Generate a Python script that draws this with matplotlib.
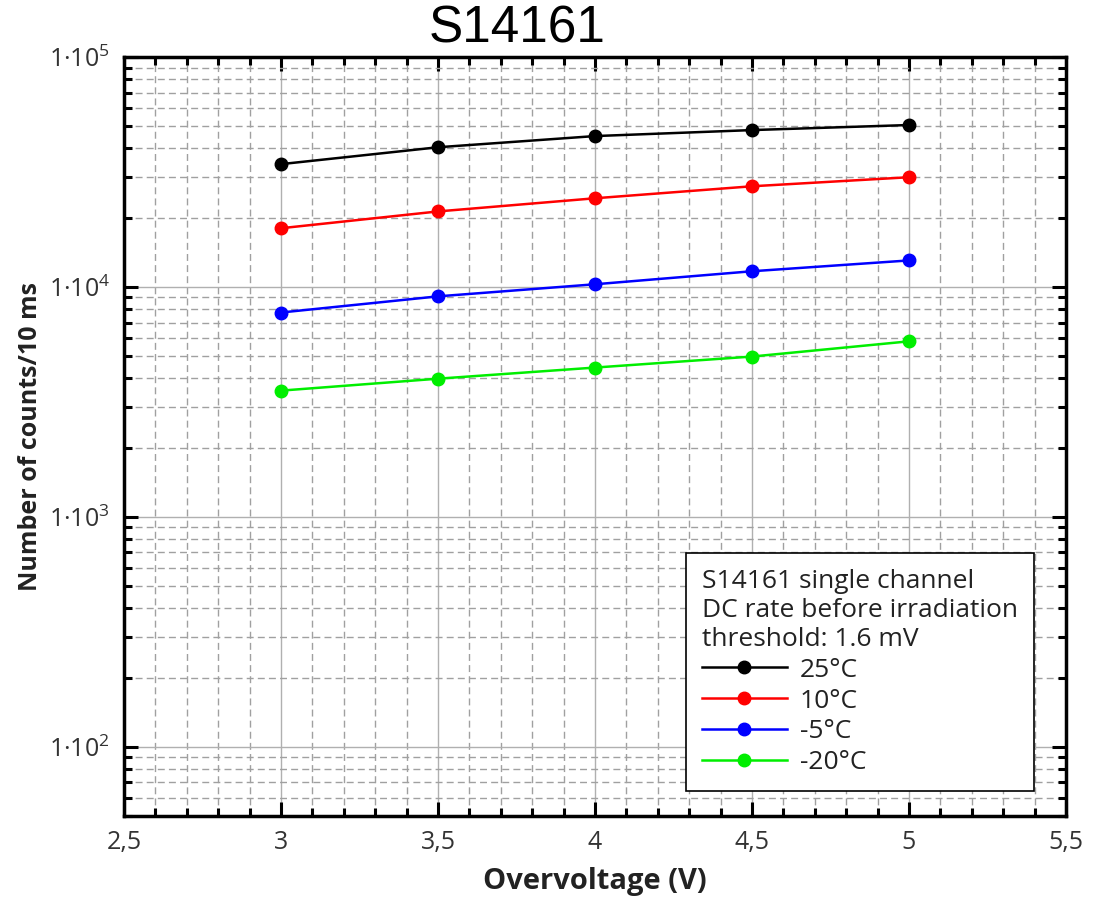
import math
import matplotlib.pyplot as plt
from matplotlib.ticker import FixedLocator, LogLocator, FuncFormatter, MultipleLocator

plt.rcParams['font.family'] = ['Open Sans', 'DejaVu Sans']
plt.rcParams['mathtext.fontset'] = 'custom'
plt.rcParams['mathtext.rm'] = 'Open Sans'

overvoltage = [3.0, 3.5, 4.0, 4.5, 5.0]
counts_25 = [34200, 40500, 45300, 48100, 50600]
counts_10 = [18000, 21300, 24300, 27400, 30000]
counts_m5 = [7740, 9100, 10270, 11700, 13040]
counts_m20 = [3540, 3990, 4460, 4980, 5800]

series = [
    ("25°C", counts_25, "#000000"),
    ("10°C", counts_10, "#ff0000"),
    ("-5°C", counts_m5, "#0000ff"),
    ("-20°C", counts_m20, "#00ee00"),
]

fig = plt.figure(figsize=(11.06, 8.99), dpi=100)
ax = fig.add_axes([0.1121, 0.0923, 0.8517, 0.8443])

for label, vals, col in series:
    ax.plot(overvoltage, vals, color=col, linewidth=1.8, marker='o',
            markersize=9, label=label)

ax.set_yscale('log')
ax.set_xlim(2.5, 5.5)
ax.set_ylim(50, 1e5)

ax.xaxis.set_major_locator(MultipleLocator(0.5))
ax.xaxis.set_minor_locator(MultipleLocator(0.1))
ax.xaxis.set_major_formatter(FuncFormatter(lambda v, p: ('%g' % v).replace('.', ',')))
ax.yaxis.set_major_locator(FixedLocator([1e2, 1e3, 1e4, 1e5]))
ax.yaxis.set_minor_locator(LogLocator(base=10, subs=range(2, 10)))
ax.yaxis.set_major_formatter(FuncFormatter(
    lambda v, p: '1·10$^{%d}$' % round(math.log10(v))))

ax.grid(which='major', color='#b0b0b0', linestyle='-', linewidth=1.0)
ax.grid(which='minor', color='#a0a0a0', linestyle=(0, (5, 3)), linewidth=1.0)
ax.set_axisbelow(True)

ax.tick_params(which='both', direction='in', top=True, right=True, width=2.2,
               labelsize=18, colors='#000000', labelcolor='#333333')
ax.tick_params(which='major', length=10, pad=10)
ax.tick_params(which='minor', length=6)
for s in ax.spines.values():
    s.set_linewidth(2.5)

ax.set_xlabel('Overvoltage (V)', fontsize=21, fontweight='bold', color='#222222',
              labelpad=9)
ax.set_ylabel('Number of counts/10 ms', fontsize=18, fontweight='bold', color='#222222',
              labelpad=4)
fig.text(517 / 1106, 0.968, 'S14161', fontsize=37, family='Liberation Sans',
         ha='center', va='center')

leg = ax.legend(title='S14161 single channel\nDC rate before irradiation\nthreshold: 1.6 mV',
                loc='lower right', bbox_to_anchor=(0.966, 0.033), borderaxespad=0,
                fontsize=19, title_fontsize=19, alignment='left', frameon=True,
                fancybox=False, edgecolor='#000000', framealpha=1, handlelength=3.2,
                handletextpad=0.5, borderpad=0.6, labelspacing=0.22)
leg.get_frame().set_linewidth(1.2)
for t in leg.get_texts():
    t.set_color('#222222')
leg.get_title().set_color('#222222')

fig.savefig('out.png', dpi=100)
